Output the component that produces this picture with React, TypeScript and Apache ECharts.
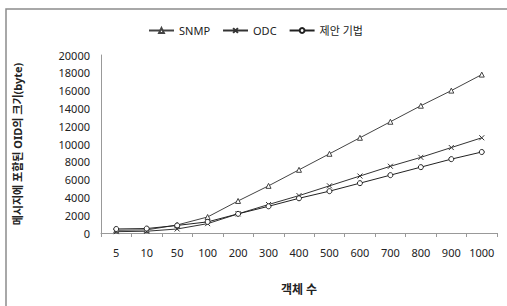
import React, { useEffect, useRef } from "react";
import * as echarts from "echarts";

const categories = ["5", "10", "50", "100", "200", "300", "400", "500", "600", "700", "800", "900", "1000"];
const snmp = [300, 350, 900, 1800, 3600, 5300, 7100, 8900, 10700, 12500, 14300, 16000, 17800];
const odc = [150, 200, 450, 1050, 2150, 3200, 4200, 5300, 6400, 7500, 8500, 9600, 10700];
const proposed = [450, 500, 850, 1250, 2150, 3000, 3900, 4700, 5600, 6500, 7400, 8300, 9100];

const FONT = "'Noto Sans', 'Noto Sans CJK KR', sans-serif";

export default function App() {
  const ref = useRef<HTMLDivElement>(null);
  useEffect(() => {
    if (!ref.current) return;
    const chart = echarts.init(ref.current, undefined, { renderer: "svg" });
    const mk = (name: string, data: number[], symbol: string, color: string, size: number) => ({
      name,
      type: "line",
      data,
      symbol,
      symbolSize: size,
      showSymbol: true,
      lineStyle: { color, width: 1 },
      itemStyle: { color: "#fff", borderColor: color, borderWidth: 1 },
    });
    chart.setOption({
      animation: false,
      textStyle: { fontFamily: FONT },
      graphic: [
        {
          type: "rect",
          shape: { x: 6, y: 9, width: 700, height: 500 },
          style: { fill: "none", stroke: "#8c8c8c", lineWidth: 1.5 },
        },
      ],
      legend: {
        top: 20,
        left: 143,
        itemWidth: 25,
        itemHeight: 6,
        itemGap: 12,
        textStyle: { fontSize: 11, color: "#222", fontFamily: FONT },
        data: ["SNMP", "ODC", "제안 기법"],
      },
      grid: { left: 101, right: 10, top: 55, bottom: 73 },
      xAxis: {
        type: "category",
        data: categories,
        boundaryGap: true,
        name: "객체 수",
        nameLocation: "middle",
        nameGap: 50,
        nameTextStyle: { fontSize: 12, fontWeight: "bold", color: "#222", fontFamily: FONT },
        axisLine: { lineStyle: { color: "#999" } },
        axisTick: { show: true, length: 4, interval: 0, lineStyle: { color: "#999" } },
        axisLabel: { fontSize: 11, color: "#222", margin: 14, interval: 0 },
      },
      yAxis: {
        type: "value",
        min: 0,
        max: 20000,
        interval: 2000,
        name: "메시지에 포함된 OID의 크기(byte)",
        nameLocation: "middle",
        nameRotate: 90,
        nameGap: 78,
        nameTextStyle: { fontSize: 11, fontWeight: "bold", color: "#222", fontFamily: FONT },
        axisLine: { show: true, lineStyle: { color: "#999" } },
        axisTick: { show: false },
        splitLine: { show: false },
        axisLabel: { fontSize: 11, color: "#222", margin: 11, formatter: (v: number) => String(v) },
      },
      series: [
        mk("SNMP", snmp, "triangle", "#444", 5),
        mk("ODC", odc, "path://M0,0L10,10M10,0L0,10", "#333", 5),
        mk("제안 기법", proposed, "circle", "#222", 5),
      ],
    });
    return () => chart.dispose();
  }, []);
  return <div ref={ref} style={{ width: 507, height: 306, position: "absolute", left: 0, top: 0 }} />;
}
